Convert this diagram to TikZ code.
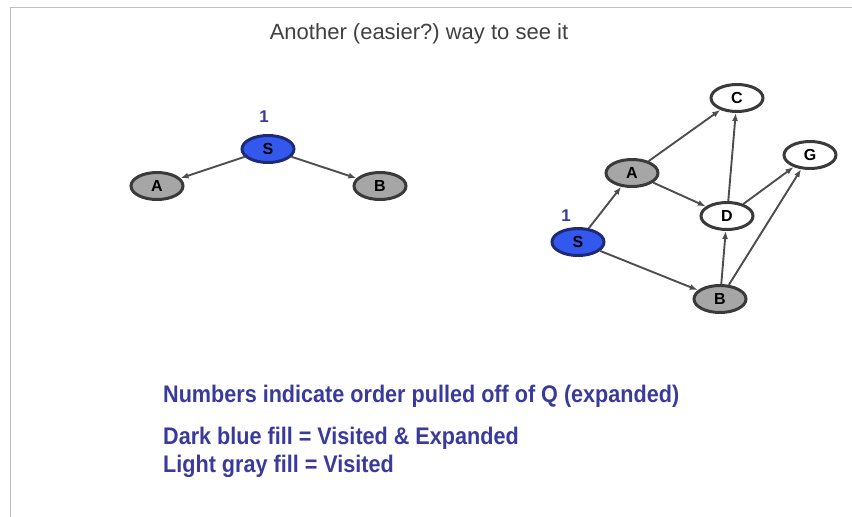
\documentclass[tikz,border=0pt]{standalone}
\usepackage{fontspec}
\setmainfont{Liberation Sans}
\newfontfamily\notefont[FakeStretch=0.9]{Liberation Sans}
\usepackage{tikz}
\usetikzlibrary{arrows.meta,positioning,shapes.geometric}

\definecolor{expblue}{HTML}{3358EE}
\definecolor{expline}{HTML}{1E2A78}
\definecolor{visgray}{HTML}{A6A6A6}
\definecolor{rimgray}{HTML}{3A3A3A}
\definecolor{notecol}{HTML}{3A3A9C}

\begin{document}
\begin{tikzpicture}[
  x=1pt, y=-1pt,
  vnode/.style={ellipse, draw=rimgray, line width=3pt, inner sep=0pt,
                minimum width=52pt, minimum height=27pt,
                font=\fontsize{16}{16}\selectfont\bfseries},
  expd/.style={vnode, fill=expblue, draw=expline},
  seen/.style={vnode, fill=visgray},
  fresh/.style={vnode, fill=white},
  arr/.style={-{Latex[length=8pt,width=6pt]}, line width=1.9pt, draw=rimgray!90},
  num/.style={text=notecol, font=\fontsize{17}{17}\selectfont\bfseries},
  note/.style={anchor=base west, inner sep=0pt, text=notecol,
               font=\notefont\fontsize{24}{24}\selectfont\bfseries}
]
\useasboundingbox (0,0) rectangle (852,517);
\draw[black!25, line width=1pt] (10.5,517) -- (10.5,7) -- (852,7);

\node[text=black!75, font=\fontsize{22}{22}\selectfont] (title) at (419,34)
  {Another (easier?)\ way to see it};

% first step
\node[expd] (S1) at (268,149) {S};
\node[seen] (A1) at (157,186) {A};
\node[seen] (B1) at (380,186) {B};
\node[num] (n1) at (264,117) {1};
\draw[arr] (S1) -- (A1);
\draw[arr] (S1) -- (B1);

% whole graph
\node[expd] (S2) at (578,242) {S};
\node[seen] (A2) at (632,173) {A};
\node[seen] (B2) at (720,299) {B};
\node[fresh] (C2) at (737,98) {C};
\node[fresh] (D2) at (727,216) {D};
\node[fresh] (G2) at (810,155) {G};
\node[num] (n2) at (566,216) {1};
\draw[arr] (S2) -- (A2);
\draw[arr] (S2) -- (B2);
\draw[arr] (A2) -- (C2);
\draw[arr] (A2) -- (D2);
\draw[arr] (D2) -- (C2);
\draw[arr] (D2) -- (G2);
\draw[arr] (B2) -- (D2);
\draw[arr] (B2) -- (G2);

\node[note] (l1) at (163,402) {Numbers indicate order pulled off of Q (expanded)};
\node[note] (l2) at (163,444) {Dark blue fill = Visited \& Expanded};
\node[note] (l3) at (163,472) {Light gray fill = Visited};
\end{tikzpicture}
\end{document}
